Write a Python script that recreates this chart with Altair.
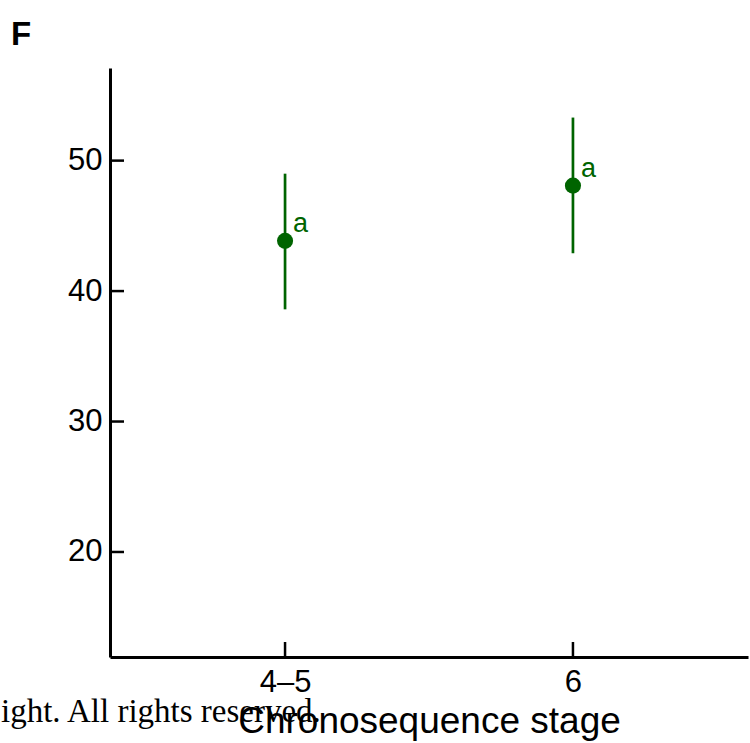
import altair as alt
import pandas as pd

stages = ["4–5", "6"]
means = [43.85, 48.08]
lowers = [38.6, 42.9]
uppers = [49.0, 53.3]
letters = ["a", "a"]
y_ticks = [20, 30, 40, 50]

GREEN = "#006400"
FONT = "Liberation Sans"

df = pd.DataFrame({"stage": stages, "mean": means, "lo": lowers, "hi": uppers, "letter": letters})
ticks_df = pd.DataFrame({"v": y_ticks})

W, H = 638, 589
xscale = alt.Scale(type="point", domain=stages, padding=0.608)
yscale = alt.Scale(domain=[11.95, 57.1], nice=False, zero=False)

x_enc = alt.X("stage:N", scale=xscale, sort=stages,
              axis=alt.Axis(title="Chronosequence stage", labelAngle=0, ticks=False,
                            labelAlign="center", labelFlush=False, labelBaseline="top",
                            labelPadding=10, titlePadding=6))
y_enc = alt.Y("mean:Q", scale=yscale,
              axis=alt.Axis(title=None, values=y_ticks, ticks=False, labelPadding=8, grid=False))

bars = alt.Chart(df).mark_rule(color=GREEN, strokeWidth=2.7).encode(
    x=x_enc, y=alt.Y("lo:Q", scale=yscale), y2="hi:Q")
pts = alt.Chart(df).mark_circle(color=GREEN, size=260, opacity=1).encode(x=x_enc, y=y_enc)
txt = alt.Chart(df).mark_text(color=GREEN, font=FONT, fontSize=27, align="left",
                              baseline="alphabetic", dx=8, dy=-9).encode(
    x=alt.X("stage:N", scale=xscale, sort=stages), y=alt.Y("mean:Q", scale=yscale), text="letter:N")

ytick_marks = alt.Chart(ticks_df).mark_rule(color="black", strokeWidth=2.5).encode(
    y=alt.Y("v:Q", scale=yscale), x=alt.value(0), x2=alt.value(14))
xtick_marks = alt.Chart(df).mark_rule(color="black", strokeWidth=2.5).encode(
    x=alt.X("stage:N", scale=xscale, sort=stages), y=alt.value(H - 15), y2=alt.value(H))

panel = alt.Chart(pd.DataFrame({"t": ["F"]})).mark_text(
    font=FONT, fontSize=33, fontWeight="bold", align="left", baseline="alphabetic", color="black"
).encode(x=alt.value(-99), y=alt.value(-23), text="t:N")

copy = alt.Chart(pd.DataFrame({"t": ["ight. All rights reserved."]})).mark_text(
    font="Liberation Serif", fontSize=33, align="left", baseline="alphabetic", color="black"
).encode(x=alt.value(-109), y=alt.value(654), text="t:N")

chart = alt.layer(ytick_marks, xtick_marks, bars, pts, txt, panel, copy).properties(
    width=W, height=H,
    autosize=alt.AutoSizeParams(type="none"),
    padding={"left": 110, "top": 68, "right": 2, "bottom": 86},
).configure_view(stroke=None).configure_axis(
    domainColor="black", domainWidth=3, labelFont=FONT, labelFontSize=31, labelColor="black",
    titleFont=FONT, titleFontSize=37, titleFontWeight="normal", titleColor="black",
    grid=False,
)

chart.save("out.html", embed_options={"renderer": "svg", "actions": False})
